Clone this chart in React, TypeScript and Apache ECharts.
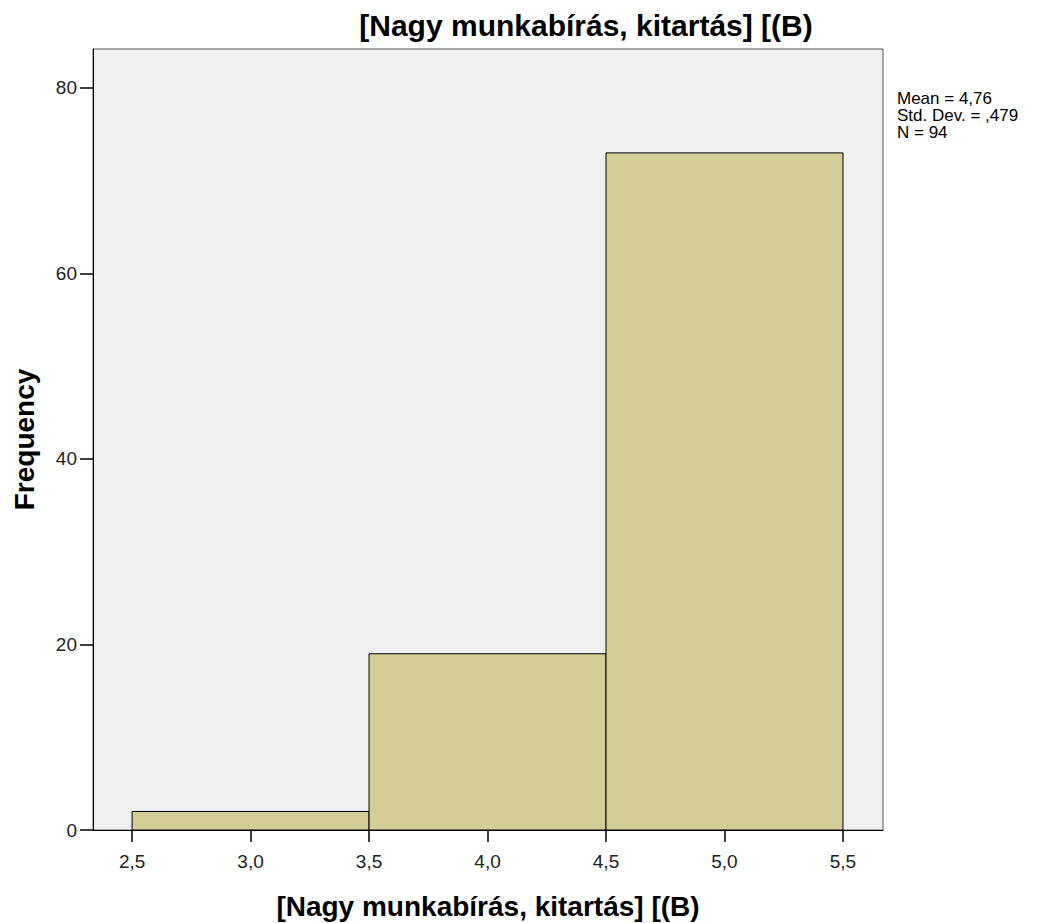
import React, { useEffect, useRef } from "react";
import * as echarts from "echarts";

const binStarts = [2.5, 3.5, 4.5];
const binEnds = [3.5, 4.5, 5.5];
const frequencies = [2, 19, 73];
const xTickValues = [2.5, 3.0, 3.5, 4.0, 4.5, 5.0, 5.5];
const statLines = ["Mean = 4,76", "Std. Dev. = ,479", "N = 94"];
const titleText = "[Nagy munkabírás, kitartás] [(B)";

export default function App() {
  const ref = useRef<HTMLDivElement>(null);
  useEffect(() => {
    const chart = echarts.init(ref.current!, null, { renderer: "svg" });
    const data = binStarts.map((s, i) => [s, binEnds[i], frequencies[i]]);
    const font = "'Liberation Sans', Arial, sans-serif";
    chart.setOption({
      animation: false,
      backgroundColor: "#ffffff",
      grid: {
        left: 93,
        top: 49,
        right: 166,
        bottom: 93,
        containLabel: false,
        outerBoundsMode: "none",
        show: true,
        backgroundColor: "#F0F0F0",
        borderColor: "#555555",
        borderWidth: 1,
      },
      title: {
        text: titleText,
        left: 581,
        top: 5,
        textAlign: "center",
        textStyle: { fontFamily: font, fontSize: 30, fontWeight: "bold", color: "#000" },
      },
      xAxis: {
        type: "value",
        min: 2.335,
        max: 5.669,
        name: titleText,
        nameLocation: "middle",
        nameGap: 62,
        nameTextStyle: { fontFamily: font, fontSize: 28, fontWeight: "bold", color: "#000" },
        axisLine: { show: true, onZero: false, lineStyle: { color: "#000", width: 1 } },
        axisTick: { show: true, length: 12, inside: false, customValues: xTickValues, lineStyle: { color: "#000", width: 1.5 } },
        axisLabel: {
          customValues: xTickValues,
          fontFamily: font,
          fontSize: 19,
          color: "#222",
          margin: 22,
          formatter: (v: number) => v.toFixed(1).replace(".", ","),
        },
        splitLine: { show: false },
      },
      yAxis: {
        type: "value",
        min: 0,
        max: 84.2,
        interval: 20,
        name: "Frequency",
        nameLocation: "middle",
        nameGap: 55,
        nameRotate: 90,
        nameTextStyle: { fontFamily: font, fontSize: 28, fontWeight: "bold", color: "#000" },
        axisLine: { show: true, lineStyle: { color: "#000", width: 1 } },
        axisTick: { show: true, length: 13, lineStyle: { color: "#000", width: 1.5 } },
        axisLabel: { fontFamily: font, fontSize: 19, color: "#222", margin: 16, showMaxLabel: false },
        splitLine: { show: false },
      },
      graphic: [
        {
          type: "text",
          left: 897,
          top: 90,
          style: {
            text: statLines.join("\n"),
            font: `17px ${font}`,
            lineHeight: 17,
            fill: "#000",
          },
        },
      ],
      series: [
        {
          type: "custom",
          data,
          encode: { x: [0, 1], y: 2 },
          renderItem: (params: any, api: any) => {
            const p0 = api.coord([api.value(0), api.value(2)]);
            const p1 = api.coord([api.value(1), 0]);
            return {
              type: "rect",
              shape: { x: p0[0], y: p0[1], width: p1[0] - p0[0], height: p1[1] - p0[1] },
              style: { fill: "#D3CE97", stroke: "#000", lineWidth: 1 },
            };
          },
        },
      ],
    });
    return () => chart.dispose();
  }, []);
  return <div ref={ref} style={{ position: "absolute", left: 0, top: 0, width: 1049, height: 923 }} />;
}
